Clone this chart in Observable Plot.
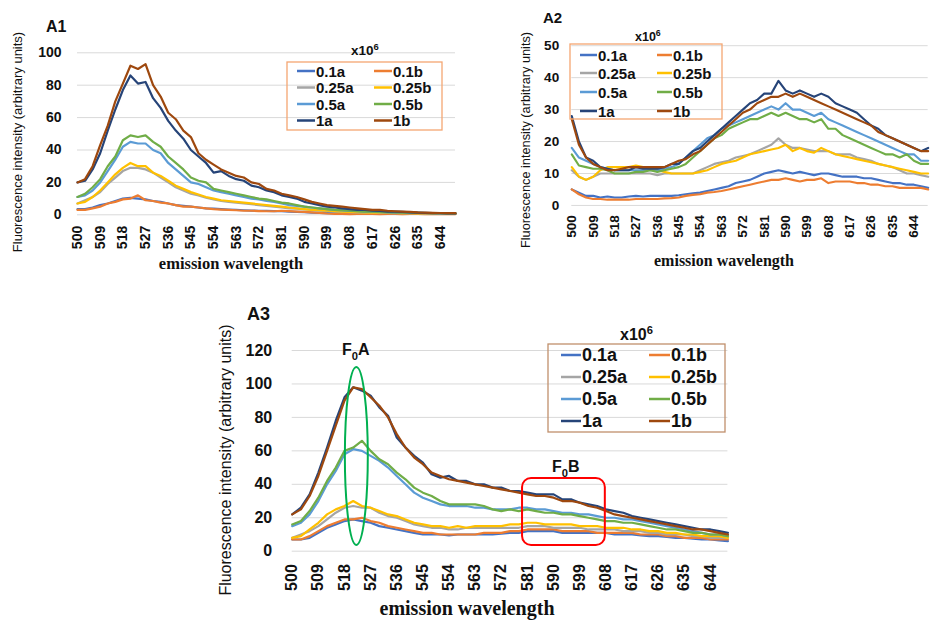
<!DOCTYPE html>
<html><head><meta charset="utf-8">
<script src="https://cdn.jsdelivr.net/npm/d3@7"></script>
<script src="https://cdn.jsdelivr.net/npm/@observablehq/plot@0.6"></script>
<style>
html,body{margin:0;padding:0;width:936px;height:622px;overflow:hidden;background:#fff;}
.panel{position:absolute;}
#overlay{position:absolute;left:0;top:0;pointer-events:none;}
</style></head><body>
<script>
// ---------- data ----------
const wl = [500,503,506,509,512,515,518,521,524,527,530,533,536,539,542,545,548,551,554,557,560,563,566,569,572,575,578,581,584,587,590,593,596,599,602,605,608,611,614,617,620,623,626,629,632,635,638,641,644,647,650];
const seriesNames = ["0.1a","0.1b","0.25a","0.25b","0.5a","0.5b","1a","1b"];
const seriesColors = ["#4472C4","#ED7D31","#A5A5A5","#FFC000","#5B9BD5","#70AD47","#264478","#9E480E"];
const xTicks = [500,509,518,527,536,545,554,563,572,581,590,599,608,617,626,635,644];
const a1Ticks = [0,20,40,60,80,100];
const a2Ticks = [0,10,20,30,40,50];
const a3Ticks = [0,20,40,60,80,100,120];

// Panel A1
const a1_01a = [3.5,3.5,4.5,6,7,8.5,10,10.5,10,9.5,8.5,8,7,6,5.5,5,4.5,4,3.8,3.5,3.2,3,2.8,2.6,2.5,2.4,2.3,2.2,2,1.8,1.6,1.4,1.2,1,1,0.9,0.9,0.8,0.8,0.8,0.7,0.7,0.7,0.7,0.6,0.6,0.6,0.6,0.6,0.5,0.5];
const a1_01b = [3,3,4,5,7,8,9.5,10,12,9,8.5,7.5,7,6,5,5,4.5,4,3.5,3.2,3,2.8,2.5,2.5,2.3,2.2,2.2,2.5,2.3,2,1.8,1.5,1.2,0.8,0.6,0.5,0.4,0.5,0.6,0.5,0.4,0.5,0.5,0.4,0.5,0.5,0.4,0.5,0.4,0.5,0.4];
const a1_025a = [7,9,11,14,19,23,27,29,29,28,26,23,20,17,15,13,12,10.5,9.5,8.5,8,7.5,7,6.5,6,5.5,5,4.5,4,3.8,3.3,3,2.6,2.3,2,1.9,1.7,1.5,1.4,1.3,1.2,1.1,1,1,0.9,0.9,0.8,0.8,0.7,0.7,0.6];
const a1_025b = [7,8,11,15,20,25,29,32,30,30,26,24,21,18,16,14,12.5,11,10,9,8.5,8,7.5,7,6.5,6,5.5,5,4.5,4,3.5,3,2.8,2.5,2.2,2,1.8,1.6,1.5,1.4,1.3,1.2,1.1,1,1,0.9,0.9,0.8,0.8,0.7,0.7];
const a1_05a = [11,12,15,20,27,34,42,45,44,44,40,38,32,28,24,20,19,17,15,14,13,12,11,10,9.5,8.5,8,7,6,5.5,5,4.5,4,3.5,3,2.7,2.4,2.2,2,1.9,1.7,1.5,1.4,1.3,1.2,1.1,1,1,0.9,0.9,0.8];
const a1_05b = [11,13,17,22,30,36,46,49,48,49,45,42,36,32,28,23,21,20,16,15,14,13,12,11,10,9.5,8.5,7.5,7,6,5,4.5,4,3.5,3,2.8,2.5,2.3,2,2,1.8,1.6,1.5,1.4,1.3,1.2,1.1,1,1,0.9,0.9];
const a1_1a = [20,21,28,38,52,65,77,86,81,82,72,66,58,52,47,40,36,32,26,27,24,22,21,18,17,15,14,12,11,10,8,7,6,5,4.5,4,3.5,3,3,2.5,2.4,2,2,1.8,1.5,1.3,1.2,1,1,0.9,0.8];
const a1_1b = [20,22,30,43,55,70,81,92,90,93,80,73,63,59,52,48,38,34,31,28,26,24,23,20,19,16,15,13,12,11,9.5,8,7,6,5.5,5,4.5,4,3.5,3,3,2.5,2.2,2,1.8,1.5,1.4,1.2,1.1,1,1];

// Panel A2
const a2_01a = [5,4,3,3,2.5,2.8,2.5,2.5,2.8,3,2.8,3,3,3,3,3.2,3.5,3.8,4,4.5,5,5.5,6,7,7.5,8,9,10,10.5,11,10.5,10,10.5,10,9.5,10,10,9.5,9,9,9,8.5,8.5,8,7.5,7,7,6.5,6.5,6,5.5];
const a2_01b = [5,3.5,2.5,2,2,1.8,1.8,1.8,1.8,2,2,2,2,2.2,2.3,2.5,3,3.3,3.5,4,4.2,4.5,5,5.5,6,6.5,7,7.5,8,8,8.5,8,7.5,8,8,8.5,7,7.5,7.5,7.5,7,7,6.5,6.5,6,6,5.5,5.5,5.5,5.5,5];
const a2_025a = [11,9,8,9,10,10,10,10,10,10,10,10,9.5,10,10,10,10,10,11,12,13,13.5,14,15,15.5,16,17,18,19,21,19,18,18,17.5,17,17,17,16,16,16,15,14.5,14,13,12.5,12,11,10,10,9.5,9];
const a2_025b = [12,9,8,9,11,12,12,12,12,12.5,12,11.5,11,10.5,10,10,10,10,10.5,11,12,13,13.5,14,15,16,16.5,17,17.5,18,19,17,18,17,16.5,18,17,16,15.5,15,14.5,14,13.5,13,12.5,12,11.5,11,10.5,10,10];
const a2_05a = [18,15,14,13,12,11.5,11,11,11,11,11,11,11,11.5,12,13,15,17,19,21,22,24,25,26,27,28,29,30,31,30,32,30,30,29,28,29,27,26,25,24,23,22,21,20,19,18,17,16,16,14,14];
const a2_05b = [16,12.5,12,11.5,11.5,11,10,10,10,10.5,10.5,11,10.5,11,11.5,12,13,15,17,19,21,22,24,25,26,27,27,28,29,28,29,28,27,27,26,27,24,24,22,21,20,19,18,17,16,16,15,16,14,13,13];
const a2_1a = [28,20,15,14,12,11.5,11,11,11,12,11.5,11.5,11.5,12,13,13,15,17,18,20,22,24,26,28,30,32,33,35,35,39,36,35,36,35,34,35,34,32,31,30,29,27,25,24,22,21,20,19,18,17,18];
const a2_1b = [27,19,15,13,12,11,11,11.5,12,12,12,12,12,12,13,14,14.5,16,17,19,21,23,25,27,29,30,32,33,34,34,35,34,35,34,33,32,31,30,29,28,27,26,25,23,22,21,20,19,18,17,17];

// Panel A3
const a3_01a = [7,7,8,11,14,16,18,19,18,17,15,14,13,12,11,10,10,10,9.5,10,10,10,10,10,10.5,11,11,12,12,12,12,11,11,11,11,11,11,10,10,10,9.5,9,9,8.5,8,8,7.5,7,7,6.5,6];
const a3_01b = [7,7,9,12,15,17,19,19,20,18,17,15,14,13,12,11,11,10,10,10,10,10,11,11,11,12,12,13,13,13,13,12,12,12,12,11,11,11,11,11,10,10,10,9,9,8,8,8,7,7,7];
const a3_025a = [8,10,12,15,19,23,26,27,26,26,23,21,20,18,16,15,14,14,13,13,14,14,14,14,14,14,14,15,15,15,14,14,14,14,13,13,13,13,12,12,12,11,11,10,10,10,9,9,8,8,8];
const a3_025b = [8,9,13,17,22,25,27,30,27,26,24,22,21,19,17,16,15,15,14,15,14,15,15,15,15,16,16,17,17,16,16,16,16,15,15,15,14,14,14,13,13,12,12,11,11,10,10,9,9,9,8];
const a3_05a = [15,17,22,30,40,48,58,61,60,57,54,50,45,40,35,32,30,28,27,27,27,26,26,25,25,25,26,26,25,25,24,23,23,22,22,21,20,20,19,19,18,17,16,15,14,13,12,11,10,10,9];
const a3_05b = [16,18,24,32,42,50,60,62,66,60,55,52,47,43,38,35,33,30,28,28,28,28,27,25,24,25,24,25,24,23,23,22,22,21,20,19,18,18,17,17,16,15,14,13,13,12,11,11,10,10,9];
const a3_1a = [22,26,34,47,62,78,92,98,96,93,86,81,68,62,57,53,46,44,45,42,42,40,40,38,38,36,36,35,34,34,34,31,31,29,28,27,25,24,23,21,20,19,18,17,16,15,14,13,13,12,11];
const a3_1b = [22,25,33,45,60,75,90,98,97,92,87,80,70,62,56,52,47,45,43,42,41,40,39,38,37,36,35,34,33,33,32,30,30,29,27,26,24,22,21,20,19,18,17,16,15,14,13,13,12,11,10];

// annotation extents (A3, data units)
const f0aX = [518.3, 526.2], f0aY = [3.4, 109.8];
const f0bX = [579.3, 607.8], f0bY = [3.4, 43.5];

// ---------- helpers ----------
const SANS = '"Liberation Sans", Arial, sans-serif';
const SERIF = '"Liberation Serif", "Times New Roman", serif';

function rows(arrs) {
  const out = [];
  arrs.forEach((arr, i) => arr.forEach((v, j) => out.push({wl: wl[j], v, s: seriesNames[i]})));
  return out;
}

function panel(cfg) {
  const data = rows(cfg.series);
  const marks = [
    Plot.gridY(cfg.yTicks, {stroke: "#D9D9D9", strokeOpacity: 1, strokeWidth: 1}),
    Plot.axisY(cfg.yTicks, {tickSize: 0, tickPadding: cfg.yPad, label: null, fontSize: cfg.fs, fontWeight: "bold", fill: "#111"}),
    Plot.axisX(xTicks, {tickSize: 0, tickPadding: cfg.xPad, tickRotate: -90, label: null, tickFormat: d => String(d), fontSize: cfg.fs, fontWeight: "bold", fill: "#111"}),
    Plot.line(data, {x: "wl", y: "v", z: "s", stroke: "s", strokeWidth: 2.2})
  ];
  if (cfg.extra) marks.push(...cfg.extra);
  const p = Plot.plot({
    width: cfg.w, height: cfg.h,
    marginLeft: cfg.mL, marginRight: cfg.mR, marginTop: cfg.mT, marginBottom: cfg.mB,
    style: {fontFamily: SANS, background: "transparent", overflow: "visible", color: "#111"},
    x: {domain: [500, 650]},
    y: {domain: [0, cfg.ymax]},
    color: {domain: seriesNames, range: seriesColors},
    marks
  });
  const div = document.createElement("div");
  div.className = "panel";
  div.style.left = cfg.left + "px";
  div.style.top = cfg.top + "px";
  div.appendChild(p);
  document.body.appendChild(div);
}

panel({left: 0, top: 0, w: 470, h: 280, mL: 77, mR: 15, mT: 52.3, mB: 65.7,
  ymax: 100, yTicks: a1Ticks, fs: 14, yPad: 16, xPad: 11,
  series: [a1_01a,a1_01b,a1_025a,a1_025b,a1_05a,a1_05b,a1_1a,a1_1b]});

panel({left: 510, top: 0, w: 440, h: 280, mL: 63.3, mR: 8.6, mT: 46.7, mB: 68.3,
  ymax: 50, yTicks: a2Ticks, fs: 14, yPad: 13, xPad: 10,
  series: [a2_01a,a2_01b,a2_025a,a2_025b,a2_05a,a2_05b,a2_1a,a2_1b]});

panel({left: 210, top: 290, w: 530, h: 332, mL: 81.7, mR: 12.6, mT: 60, mB: 71.3,
  ymax: 120, yTicks: a3Ticks, fs: 16, yPad: 20, xPad: 13,
  series: [a3_01a,a3_01b,a3_025a,a3_025b,a3_05a,a3_05b,a3_1a,a3_1b],
  extra: [
    Plot.rect([{x1: f0aX[0], x2: f0aX[1], y1: f0aY[0], y2: f0aY[1]}], {x1: "x1", x2: "x2", y1: "y1", y2: "y2", fill: "none", stroke: "#00B050", strokeWidth: 2, rx: 200, ry: 200}),
    Plot.rect([{x1: f0bX[0], x2: f0bX[1], y1: f0bY[0], y2: f0bY[1]}], {x1: "x1", x2: "x2", y1: "y1", y2: "y2", fill: "none", stroke: "#FF0000", strokeWidth: 2, rx: 9, ry: 9})
  ]});

// ---------- overlay texts & legends ----------
const svg = d3.select("body").append("svg").attr("id", "overlay")
  .attr("width", 936).attr("height", 622).style("font-family", SANS);

function txt(x, y, s, fs, opts = {}) {
  return svg.append("text").attr("x", x).attr("y", y).attr("font-size", fs)
    .attr("font-weight", opts.weight || "bold").attr("fill", "#111")
    .attr("text-anchor", opts.anchor || "start")
    .style("font-family", opts.family || SANS).text(s);
}
function xten(x, y, fs) {
  const t = txt(x, y, "x10", fs);
  t.append("tspan").attr("dy", -fs * 0.4).attr("font-size", fs * 0.7).text("6");
}
function ytitle(cx, cy, fs) {
  svg.append("text").attr("transform", `translate(${cx},${cy}) rotate(-90)`)
    .attr("text-anchor", "middle").attr("dominant-baseline", "central")
    .attr("font-size", fs).attr("fill", "#111").text("Fluorescence intensity (arbitrary units)");
}
function xtitle(cx, cy, fs) {
  svg.append("text").attr("x", cx).attr("y", cy).attr("text-anchor", "middle")
    .attr("dominant-baseline", "central").attr("font-size", fs).attr("font-weight", "bold")
    .style("font-family", SERIF).attr("fill", "#111").text("emission wavelength");
}
function legend(L) {
  svg.append("rect").attr("x", L.x).attr("y", L.y).attr("width", L.w).attr("height", L.h)
    .attr("fill", "none").attr("stroke", L.stroke).attr("stroke-width", 1.3);
  L.rows.forEach((ry, i) => {
    [0, 1].forEach(c => {
      const k = i * 2 + c;
      const sw = c === 0 ? L.sw1 : L.sw2;
      svg.append("line").attr("x1", sw[0]).attr("x2", sw[1]).attr("y1", ry).attr("y2", ry)
        .attr("stroke", seriesColors[k]).attr("stroke-width", 2.5);
      svg.append("text").attr("x", sw[1] + 1).attr("y", ry).attr("dominant-baseline", "central")
        .attr("font-size", L.fs).attr("font-weight", "bold").attr("fill", "#111").text(seriesNames[k]);
    });
  });
}
function fsub(x, y, letter, fs) {
  const t = txt(x, y, "F", fs);
  t.append("tspan").attr("dy", fs * 0.3).attr("font-size", fs * 0.7).text("0");
  t.append("tspan").attr("dy", -fs * 0.3).text(letter);
}

// A1
txt(46, 32, "A1", 16);
xten(351, 55, 13.5);
ytitle(17, 142, 13);
xtitle(231, 263, 16.5);
legend({x: 287, y: 62, w: 155, h: 68, stroke: "#F4A672", rows: [71, 87.5, 104, 120.5], sw1: [297, 315], sw2: [374, 392], fs: 15});

// A2
txt(543, 23, "A2", 15);
xten(635, 41, 12.5);
ytitle(525, 140, 12.75);
xtitle(724, 260, 16);
legend({x: 570, y: 44, w: 152, h: 75, stroke: "#F4A672", rows: [55, 73, 92, 111], sw1: [580, 597], sw2: [657, 672], fs: 15});

// A3
txt(247, 320, "A3", 18);
xten(620, 340, 16);
ytitle(225, 460, 16);
xtitle(467, 608, 20);
legend({x: 548, y: 344, w: 177, h: 88, stroke: "#C0906C", rows: [355, 377, 399, 421], sw1: [561, 581], sw2: [649, 670], fs: 18});
fsub(342, 355, "A", 16);
fsub(552, 472, "B", 16);
</script>
</body></html>
